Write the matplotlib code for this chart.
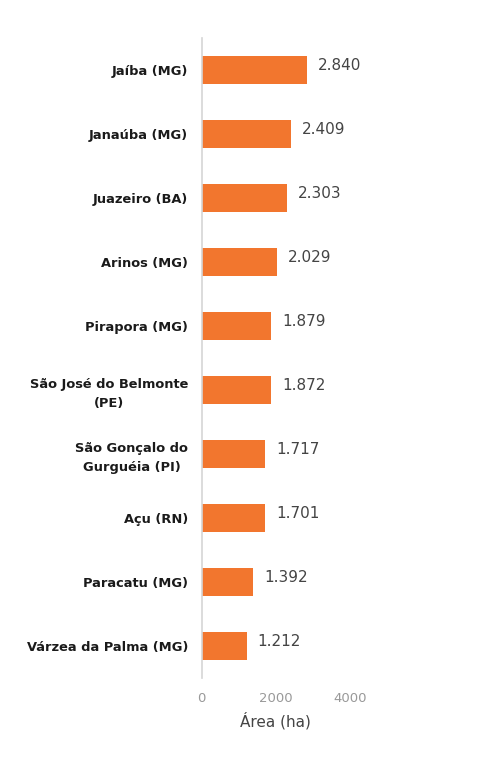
import matplotlib
matplotlib.use('Agg')
import matplotlib.pyplot as plt

municipios = ['Jaíba (MG)', 'Janaúba (MG)', 'Juazeiro (BA)', 'Arinos (MG)',
              'Pirapora (MG)', 'São José do Belmonte\n(PE)',
              'São Gonçalo do\nGurguéia (PI)', 'Açu (RN)', 'Paracatu (MG)',
              'Várzea da Palma (MG)']
area_ha = [2840, 2409, 2303, 2029, 1879, 1872, 1717, 1701, 1392, 1212]
rotulos = ['2.840', '2.409', '2.303', '2.029', '1.879', '1.872', '1.717',
           '1.701', '1.392', '1.212']
xticks = [0, 2000, 4000]

plt.rcParams['font.family'] = ['DejaVu Sans']

fig = plt.figure(figsize=(5.02, 7.68), dpi=100)
ax = fig.add_axes([0.402, 0.117, 0.295, 0.834])

pos = list(range(len(municipios)))
ax.barh(pos, area_ha, height=0.44, color='#F2762E')
ax.set_ylim(len(municipios) - 0.5, -0.5)
ax.set_xlim(0, 4000)

for p, v, r in zip(pos, area_ha, rotulos):
    ax.annotate(r, (v, p), xytext=(8, 3), textcoords='offset points',
                va='center', ha='left', fontsize=11, color='#444444')

ax.set_yticks(pos)
ax.set_yticklabels(municipios, fontsize=9.4, fontweight='bold', color='#1a1a1a',
                   multialignment='center', linespacing=1.55)
ax.set_xticks(xticks)
ax.set_xticklabels([str(t) for t in xticks], fontsize=9.5, color='#999999')
ax.tick_params(axis='both', length=0)
ax.tick_params(axis='x', pad=10)
ax.tick_params(axis='y', pad=10)
ax.set_xlabel('Área (ha)', fontsize=11, color='#444444', labelpad=5)

for s in ['top', 'right', 'bottom']:
    ax.spines[s].set_visible(False)
ax.spines['left'].set_color('#D5D5D5')
ax.spines['left'].set_linewidth(1.2)

fig.savefig('out.png', dpi=100, facecolor='white')
